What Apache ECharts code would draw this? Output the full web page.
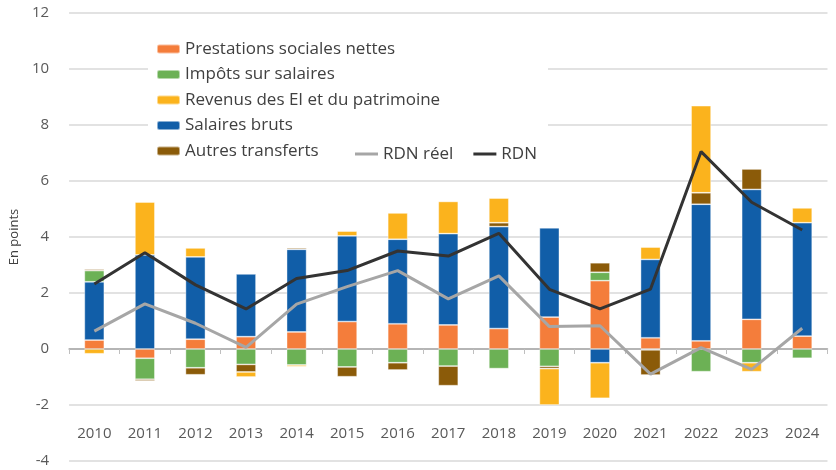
<!DOCTYPE html>
<html><head><meta charset="utf-8">
<script src="https://cdn.jsdelivr.net/npm/echarts@6/dist/echarts.min.js"></script>
<style>html,body{margin:0;padding:0;background:#fff}#c{width:836px;height:470px}</style>
</head><body><div id="c"></div>
<script>
const years = ['2010','2011','2012','2013','2014','2015','2016','2017','2018','2019','2020','2021','2022','2023','2024'];
const yTicks = [-4,-2,0,2,4,6,8,10,12];
const prestations = [0.32, -0.33, 0.35, 0.44, 0.61, 0.98, 0.90, 0.86, 0.73, 1.14, 2.44, 0.40, 0.29, 1.06, 0.46];
const salaires = [2.08, 3.36, 2.94, 2.24, 2.95, 3.06, 3.02, 3.26, 3.64, 3.19, -0.49, 2.80, 4.88, 4.64, 4.05];
const impots = [0.40, -0.75, -0.67, -0.55, -0.57, -0.64, -0.49, -0.61, -0.70, -0.62, 0.30, -0.03, -0.81, -0.49, -0.33];
const autres = [0.05, -0.06, -0.25, -0.27, 0.05, -0.35, -0.26, -0.70, 0.14, -0.08, 0.34, -0.90, 0.41, 0.73, -0.02];
const revenus = [-0.17, 1.89, 0.32, -0.18, -0.06, 0.17, 0.94, 1.15, 0.88, -1.30, -1.27, 0.44, 3.11, -0.32, 0.53];
const rdn = [2.32, 3.44, 2.29, 1.43, 2.52, 2.80, 3.50, 3.32, 4.13, 2.13, 1.43, 2.14, 7.05, 5.24, 4.25];
const rdnReel = [0.64, 1.61, 0.92, 0.06, 1.60, 2.23, 2.80, 1.79, 2.61, 0.80, 0.83, -0.90, 0.05, -0.73, 0.74];

const FONT = 'Open Sans';
const chart = echarts.init(document.getElementById('c'), null, {renderer:'canvas'});
function bar(name, data, color){
  return {name, type:'bar', stack:'s', data, barWidth:20, xAxisIndex:0,
    itemStyle:{color, borderColor:'rgba(255,255,255,0.5)', borderWidth:0.8}};
}
chart.setOption({
  animation:false,
  textStyle:{fontFamily:FONT},
  grid:{left:61.5, right:8.5, top:13, bottom:9},
  graphic:[{type:'rect', z:1, shape:{x:148, y:34, width:400, height:130}, style:{fill:'#fff'}}],
  legend:[{
    orient:'vertical', left:151, top:35, itemWidth:23, itemHeight:9, itemGap:7.5,
    textStyle:{fontFamily:FONT, fontSize:17, color:'#404040', lineHeight:18},
    data:['Prestations sociales nettes','Impôts sur salaires','Revenus des EI et du patrimoine','Salaires bruts','Autres transferts']
  },{
    orient:'horizontal', left:350, top:140, itemWidth:23, itemHeight:3, itemGap:20,
    textStyle:{fontFamily:FONT, fontSize:17, color:'#404040', lineHeight:18},
    data:[{name:'RDN réel', icon:'rect'},{name:'RDN', icon:'rect'}]
  }],
  xAxis:[{
    type:'category', data:years, position:'bottom',
    axisLine:{show:false, onZero:false}, axisTick:{show:false},
    axisLabel:{inside:true, margin:20, fontSize:15, color:'#595959', fontFamily:FONT}
  },{
    type:'category', data:years, position:'top',
    axisLine:{show:true, onZero:true, lineStyle:{color:'#A6A6A6', width:1.5}},
    axisTick:{show:true, inside:true, length:5, lineStyle:{color:'#BFBFBF', width:1}},
    axisLabel:{show:false}
  }],
  yAxis:{
    type:'value', min:-4, max:12, interval:2,
    name:'En points', nameLocation:'middle', nameGap:46, nameRotate:90,
    nameTextStyle:{fontSize:13, color:'#404040', fontFamily:FONT, fontWeight:500},
    axisLine:{show:false}, axisTick:{show:false},
    axisLabel:{margin:20, fontSize:15, color:'#595959', fontFamily:FONT},
    splitLine:{lineStyle:{color:'#D9D9D9', width:1.5}}
  },
  series:[
    bar('Prestations sociales nettes', prestations, '#F47D3B'),
    bar('Salaires bruts', salaires, '#115EA8'),
    bar('Impôts sur salaires', impots, '#6CB155'),
    bar('Autres transferts', autres, '#8B5B09'),
    bar('Revenus des EI et du patrimoine', revenus, '#FBB31D'),
    {name:'RDN réel', type:'line', data:rdnReel, symbol:'none', xAxisIndex:0, z:5,
      lineStyle:{color:'#A6A6A6', width:3}, itemStyle:{color:'#A6A6A6'}},
    {name:'RDN', type:'line', data:rdn, symbol:'none', xAxisIndex:0, z:6,
      lineStyle:{color:'#333333', width:3}, itemStyle:{color:'#333333'}}
  ]
});
</script></body></html>
